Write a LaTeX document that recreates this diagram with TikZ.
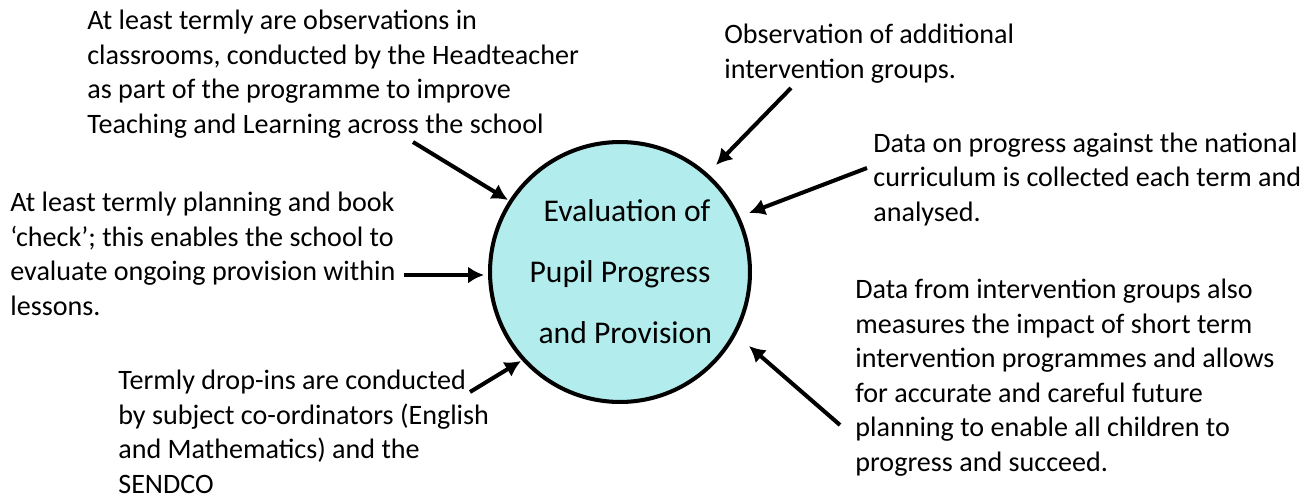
\documentclass[tikz,border=0pt]{standalone}
\usepackage{fontspec}
\setmainfont{Carlito}
\usetikzlibrary{arrows.meta}

\definecolor{evalfill}{RGB}{178,236,236}

\tikzset{
    % anchored on the baseline of the last line
    note/.style={align=left, inner sep=0pt, anchor=base west,
        font=\fontsize{16}{19.6}\selectfont},
    feed/.style={line width=2.3pt, -{Latex[length=0.32cm,width=0.34cm]}}
}

\begin{document}
\begin{tikzpicture}[x=0.02cm, y=-0.02cm]
    \useasboundingbox (0,0) rectangle (1315,497);

    % The central circle
    \node[circle, draw, line width=2.3pt, fill=evalfill, minimum size=5.2cm,
          inner sep=0pt, align=center,
          font=\fontsize{18}{34.7}\selectfont] (eval) at (620,272)
          {\hspace*{8pt}Evaluation of\\Pupil Progress\\\hspace*{6pt}and Provision};

    % Sources of evidence, left side
    \node[note] (observe) at (87,133) {At least termly are observations in\\
        classrooms, conducted by the Headteacher\\
        as part of the programme to improve\\
        Teaching and Learning across the school};
    \node[note] (books) at (10,315) {At least termly planning and book\\
        ‘check’; this enables the school to\\
        evaluate ongoing provision within\\
        lessons.};
    \node[note] (dropin) at (118,493) {Termly drop-ins are conducted\\
        by subject co-ordinators (English\\
        and Mathematics) and the\\
        SENDCO};

    % Sources of evidence, right side
    \node[note] (groups) at (724,78) {Observation of additional\\
        intervention groups.};
    \node[note] (curric) at (873,221) {Data on progress against the national\\
        curriculum is collected each term and\\
        analysed.};
    \node[note] (impact) at (855,471) {Data from intervention groups also\\
        measures the impact of short term\\
        intervention programmes and allows\\
        for accurate and careful future\\
        planning to enable all children to\\
        progress and succeed.};

    % Arrow ends
    \coordinate (s1) at (413,142);  \coordinate (e1) at (508,200);
    \coordinate (s2) at (404,275);  \coordinate (e2) at (484,275);
    \coordinate (s3) at (470,392);  \coordinate (e3) at (521,361);
    \coordinate (s4) at (791,88);   \coordinate (e4) at (716,165);
    \coordinate (s5) at (867,168);  \coordinate (e5) at (749,213);
    \coordinate (s6) at (840,425);  \coordinate (e6) at (749,346);

    % Draw the arrows into the circle
    \draw[feed] (s1) -- (e1);
    \draw[feed] (s2) -- (e2);
    \draw[feed] (s3) -- (e3);
    \draw[feed] (s4) -- (e4);
    \draw[feed] (s5) -- (e5);
    \draw[feed] (s6) -- (e6);
\end{tikzpicture}
\end{document}
